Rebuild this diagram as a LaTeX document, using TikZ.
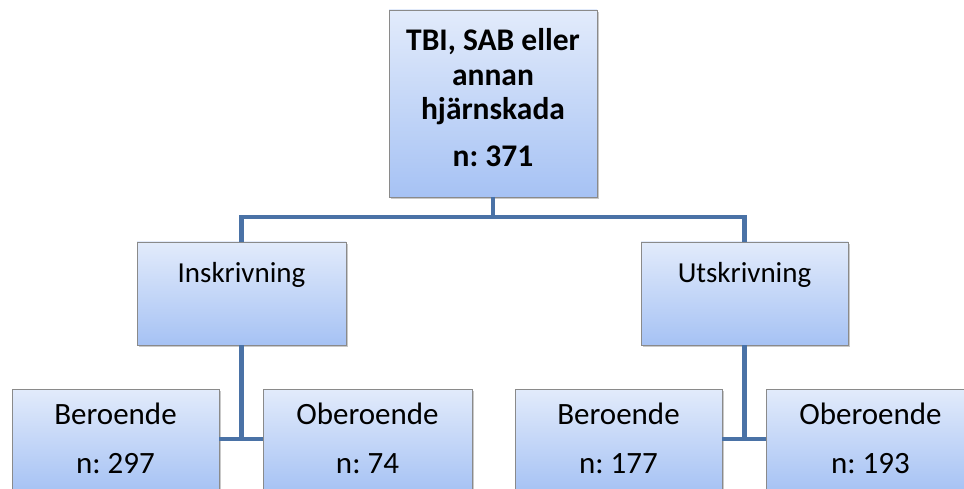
\documentclass[tikz,border=0pt]{standalone}
\usepackage{fontspec}
\setmainfont{Carlito}
\usetikzlibrary{shadows}
\frenchspacing
\definecolor{linkblue}{HTML}{4A72A6}
\definecolor{boxtop}{HTML}{E2EBFB}
\definecolor{boxbot}{HTML}{A6C2F4}
\definecolor{boxedge}{HTML}{8A8A8A}
\tikzset{
  box/.style={draw=boxedge, line width=0.9pt, top color=boxtop, bottom color=boxbot,
    minimum width=#1, minimum height=103pt, inner sep=0pt, outer sep=0pt,
    drop shadow={shadow xshift=1.5pt, shadow yshift=-2pt, opacity=0.35, fill=black!60}},
  box/.default=208pt,
  link/.style={draw=linkblue, line width=4.5pt},
  mtxt/.style={anchor=base, inner sep=0pt, font=\fontsize{29}{35}\selectfont},
  txt/.style={anchor=base, inner sep=0pt, font=\fontsize{31}{37}\selectfont},
  btxt/.style={anchor=base, inner sep=0pt, font=\fontsize{31.5}{37}\selectfont\bfseries},
}
\begin{document}
\begin{tikzpicture}[x=1pt, y=-1pt]
\clip (0,0) rectangle (964,489);
\fill[white] (0,0) rectangle (964,489);
% boxes
\node[box, minimum height=187pt] (top) at (493,103.5) {};
\node[box=209pt] (ins) at (241.5,293.5) {};
\node[box=207pt] (uts) at (744.5,293.5) {};
% connectors
\coordinate (bar) at (493,217);
\draw[link] (top.south) -- (bar);
\draw[link] (ins.north) |- (bar) -| (uts.north);
\node[box=207pt] (b1) at (115.5,440.5) {};
\node[box=209pt] (o1) at (367.5,440.5) {};
\node[box=207pt] (b2) at (618.5,440.5) {};
\node[box=209pt] (o2) at (870.5,440.5) {};
\coordinate (j1) at (241.5,439);
\coordinate (j2) at (744.5,439);
\draw[link] (ins.south) -- (j1);
\draw[link] (b1.east |- j1) -- (o1.west |- j1);
\draw[link] (uts.south) -- (j2);
\draw[link] (b2.east |- j2) -- (o2.west |- j2);
% texts
\node[btxt] (t1) at (493,51) {TBI, SAB eller};
\node[btxt] (t2) at (493,86) {annan};
\node[btxt] (t3) at (493,120) {hjärnskada};
\node[btxt] (t4) at (493,167) {n: 371};
\node[mtxt] (tins) at (241.5,282) {Inskrivning};
\node[mtxt] (tuts) at (744.5,282) {Utskrivning};
\node[txt] (tb1) at (115.5,424) {Beroende};
\node[txt] (nb1) at (115.5,473) {n: 297};
\node[txt] (to1) at (367.5,424) {Oberoende};
\node[txt] (no1) at (367.5,473) {n: 74};
\node[txt] (tb2) at (618.5,424) {Beroende};
\node[txt] (nb2) at (618.5,473) {n: 177};
\node[txt] (to2) at (870.5,424) {Oberoende};
\node[txt] (no2) at (870.5,473) {n: 193};
\end{tikzpicture}
\end{document}
